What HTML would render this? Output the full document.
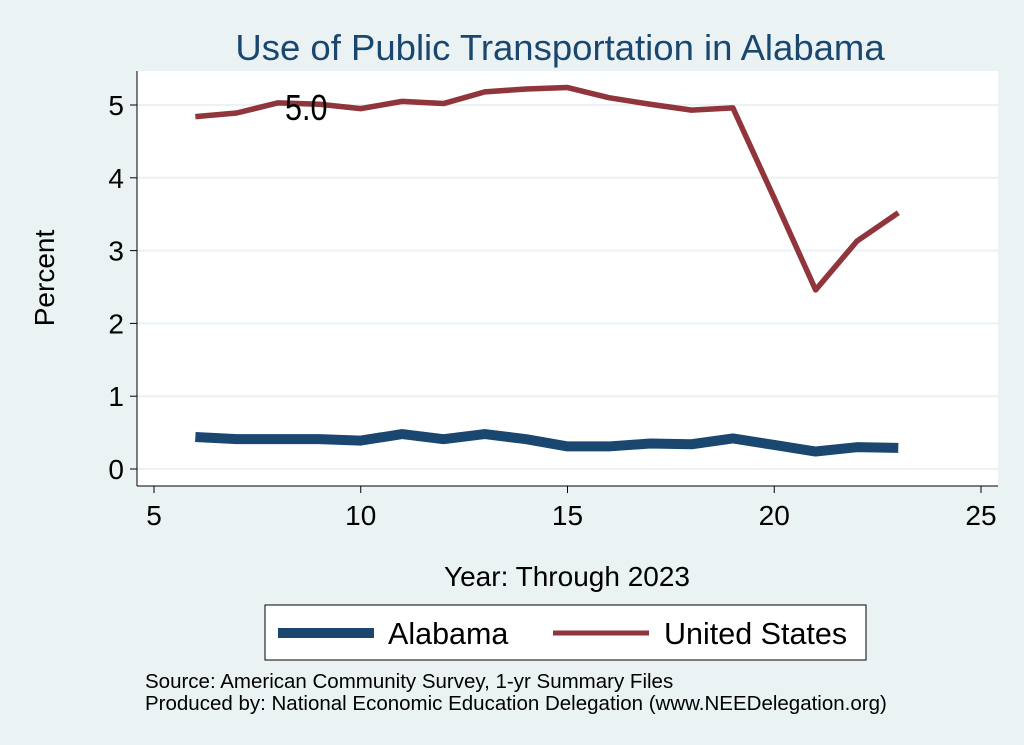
<!DOCTYPE html>
<html><head><meta charset="utf-8"><style>
body{margin:0;background:#eaf2f3;}
svg{display:block;font-family:"Liberation Sans",Arial,sans-serif;}
</style></head><body>
<svg id="chart" width="1024" height="745">
<rect x="0" y="0" width="1024" height="745" fill="#eaf2f3"/>
<text x="560" y="60" text-anchor="middle" font-size="36.5" fill="#1a476f">Use of Public Transportation in Alabama</text>
<rect x="137" y="71" width="861" height="415" fill="#fff"/>
<g id="grid"></g>
<g id="axes"></g>
<g id="series"></g>
<text x="285" y="120" font-size="36" fill="#000" transform="translate(285,0) scale(0.85,1) translate(-285,0)">5.0</text>
<text transform="translate(54,278) rotate(-90)" text-anchor="middle" font-size="28" fill="#000">Percent</text>
<text x="567" y="586" text-anchor="middle" font-size="28" fill="#000">Year: Through 2023</text>
<g>
<rect x="265" y="605" width="601" height="55" fill="#fff" stroke="#000" stroke-width="1"/>
<line x1="278" y1="633" x2="374" y2="633" stroke="#1a476f" stroke-width="10"/>
<text x="388" y="644" font-size="30.5">Alabama</text>
<line x1="553" y1="633" x2="649" y2="633" stroke="#90353b" stroke-width="5"/>
<text x="664" y="644" font-size="30.5">United States</text>
</g>
<text x="145" y="688" font-size="20.5">Source: American Community Survey, 1-yr Summary Files</text>
<text x="145" y="710" font-size="20.5">Produced by: National Economic Education Delegation (www.NEEDelegation.org)</text>
</svg>
<script>
const years=[6,7,8,9,10,11,12,13,14,15,16,17,18,19,20,21,22,23];
const usValues=[4.84,4.89,5.03,5.01,4.95,5.05,5.02,5.18,5.22,5.24,5.10,5.01,4.93,4.96,3.72,2.46,3.13,3.52];
const alValues=[0.44,0.41,0.41,0.41,0.39,0.48,0.41,0.48,0.41,0.31,0.31,0.35,0.34,0.42,0.33,0.24,0.30,0.29];
const xTicks=[5,10,15,20,25];
const yTicks=[0,1,2,3,4,5];
const NS="http://www.w3.org/2000/svg";
function xs(v){return 154+(v-5)*41.35;}
function ys(v){return 469-v*72.8;}
function mk(tag,attrs,parent){const e=document.createElementNS(NS,tag);for(const k in attrs)e.setAttribute(k,attrs[k]);parent.appendChild(e);return e;}
const grid=document.getElementById('grid'),axes=document.getElementById('axes'),ser=document.getElementById('series');
yTicks.forEach(t=>{
 const g=mk('line',{x1:137,x2:998,y1:ys(t),y2:ys(t),stroke:'#eaf2f3','stroke-width':2},grid);
 
 
 const tk=mk('line',{x1:130,x2:137,y1:ys(t),y2:ys(t),stroke:'#000'},axes);
 
 
 const lb=mk('text',{x:124,y:ys(t)+10,'text-anchor':'end','font-size':28},axes);
 lb.textContent=t;
 
 
});
xTicks.forEach(t=>{
 const tk=mk('line',{x1:xs(t),x2:xs(t),y1:486,y2:493,stroke:'#000'},axes);
 
 
 const lb=mk('text',{x:xs(t),y:525,'text-anchor':'middle','font-size':28},axes);
 lb.textContent=t;
 
 
});
const ya=mk('line',{x1:137,x2:137,y1:71,y2:486,stroke:'#000'},axes);


const xa=mk('line',{x1:137,x2:998,y1:486,y2:486,stroke:'#000'},axes);


function pts(vals){return years.map((y,i)=>xs(y)+','+ys(vals[i])).join(' ');}
const al=mk('polyline',{points:pts(alValues),fill:'none',stroke:'#1a476f','stroke-width':10,'stroke-linejoin':'round'},ser);


const us=mk('polyline',{points:pts(usValues),fill:'none',stroke:'#90353b','stroke-width':5.5,'stroke-linejoin':'round'},ser);


</script>
</body></html>
